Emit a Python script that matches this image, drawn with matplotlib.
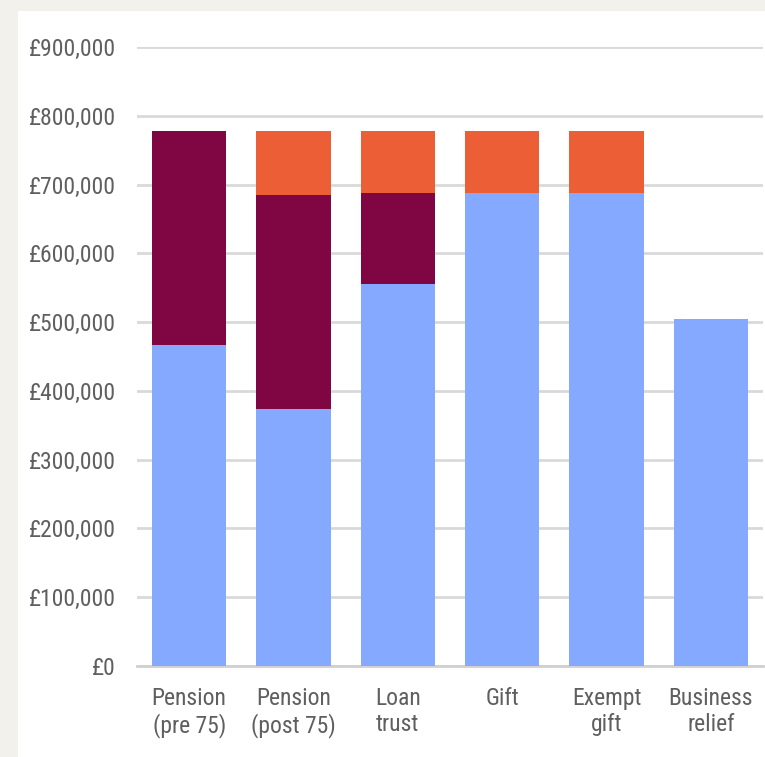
import matplotlib
matplotlib.use("Agg")
import matplotlib.pyplot as plt
from matplotlib.patches import Rectangle
from matplotlib.ticker import FuncFormatter

categories = ["Pension\n(pre 75)", "Pension\n(post 75)", "Loan\ntrust", "Gift", "Exempt\ngift", "Business\nrelief"]
blue_vals = [466000, 373000, 556000, 688000, 688000, 504000]
maroon_vals = [312000, 312000, 132000, 0, 0, 0]
orange_vals = [0, 93000, 90000, 90000, 90000, 0]
yticks = [0, 100000, 200000, 300000, 400000, 500000, 600000, 700000, 800000, 900000]

plt.rcParams['font.family'] = ['Liberation Sans Narrow', 'Roboto Condensed', 'Archivo Narrow', 'DejaVu Sans']

W, H = 765, 757
fig = plt.figure(figsize=(W / 100, H / 100), dpi=100)
fig.patch.set_facecolor('#f3f1ec')
bg = Rectangle((18 / W, 0), 1 - 18 / W, 1 - 11 / H, transform=fig.transFigure,
               facecolor='white', edgecolor='none', zorder=-10)
fig.add_artist(bg)

ax = fig.add_axes([137 / W, (H - 666) / H, (763 - 137) / W, (666 - 47) / H])
ax.set_facecolor('none')

x = list(range(len(categories)))
bw = 0.71
ax.bar(x, blue_vals, width=bw, color='#84a9ff', zorder=3)
ax.bar(x, maroon_vals, width=bw, bottom=blue_vals, color='#7f0543', zorder=3)
bottoms2 = [b + m for b, m in zip(blue_vals, maroon_vals)]
ax.bar(x, orange_vals, width=bw, bottom=bottoms2, color='#eb5e36', zorder=3)

ax.set_xlim(-0.5, len(categories) - 0.5)
ax.set_ylim(0, 900000)
ax.set_yticks(yticks)
ax.yaxis.set_major_formatter(FuncFormatter(lambda v, p: "£{:,.0f}".format(v)))
ax.set_xticks(x)
ax.set_xticklabels(categories, linespacing=1.15)
ax.grid(axis='y', color='#d9d9d9', linewidth=2, zorder=0)
ax.set_axisbelow(True)
for s in ['top', 'right', 'left']:
    ax.spines[s].set_visible(False)
ax.spines['bottom'].set_color('#d0d0d0')
ax.spines['bottom'].set_linewidth(2)
ax.tick_params(axis='both', length=0, labelsize=17, colors='#5f5f5f')
ax.tick_params(axis='y', pad=15)
ax.tick_params(axis='x', pad=15)

fig.savefig("out.png", dpi=100, facecolor=fig.get_facecolor())
